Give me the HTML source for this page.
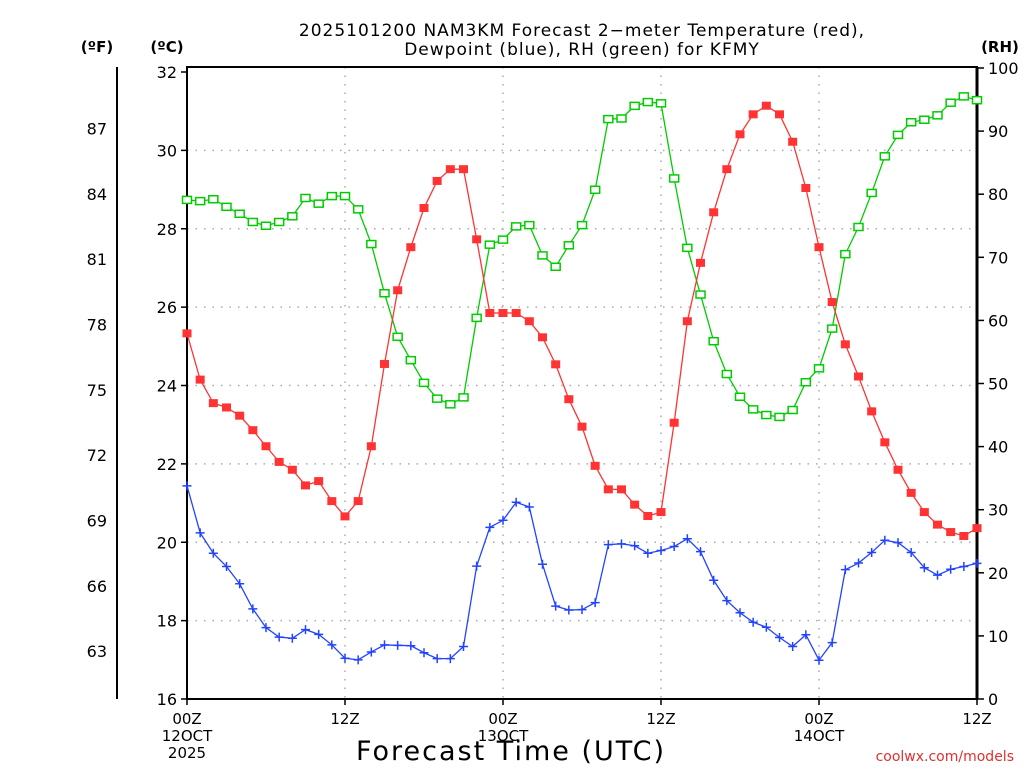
<!DOCTYPE html>
<html><head><meta charset="utf-8"><style>
body{margin:0;background:#fff;width:1024px;height:768px;overflow:hidden}
svg text{font-family:"DejaVu Sans","Liberation Sans",sans-serif;fill:#000}
</style></head><body>
<svg id="chart" width="1024" height="768" viewBox="0 0 1024 768" xmlns="http://www.w3.org/2000/svg">
<g id="grid"></g>
<g id="axes"></g>
<g id="series"></g>
<text x="582" y="36" font-size="17" letter-spacing="1" text-anchor="middle">2025101200 NAM3KM Forecast 2−meter Temperature (red),</text>
<text x="582" y="55" font-size="17" letter-spacing="1" text-anchor="middle">Dewpoint (blue), RH (green) for KFMY</text>
<text x="97" y="52" font-size="15" font-weight="bold" text-anchor="middle">(ºF)</text>
<text x="167" y="52" font-size="15" font-weight="bold" text-anchor="middle">(ºC)</text>
<text x="1000" y="52" font-size="15" font-weight="bold" text-anchor="middle">(RH)</text>
<text x="511" y="760" font-size="27" letter-spacing="2" text-anchor="middle">Forecast Time (UTC)</text>
<text x="1014" y="761" font-size="14" text-anchor="end" style="fill:#e03030">coolwx.com/models</text>
</svg>
<script>
const hours = Array.from({length:61},(_,i)=>i);
const tempC = [25.33,24.15,23.55,23.44,23.23,22.86,22.45,22.05,21.85,21.45,21.56,21.05,20.66,21.05,22.45,24.55,26.43,27.53,28.53,29.22,29.52,29.52,27.73,25.85,25.85,25.85,25.64,25.23,24.54,23.65,22.95,21.95,21.35,21.35,20.96,20.67,20.77,23.05,25.64,27.13,28.42,29.52,30.41,30.92,31.14,30.92,30.22,29.04,27.53,26.13,25.05,24.23,23.34,22.55,21.85,21.26,20.77,20.45,20.26,20.16,20.36];
const dewC = [21.44,20.24,19.72,19.38,18.94,18.30,17.82,17.58,17.55,17.77,17.65,17.38,17.04,17.00,17.20,17.38,17.37,17.36,17.18,17.03,17.03,17.34,19.39,20.38,20.56,21.02,20.90,19.44,18.37,18.27,18.28,18.46,19.94,19.96,19.91,19.72,19.79,19.89,20.09,19.76,19.03,18.51,18.20,17.96,17.83,17.57,17.34,17.64,16.99,17.44,19.30,19.47,19.74,20.05,19.99,19.74,19.35,19.16,19.31,19.38,19.46];
const rh = [79.1,78.9,79.2,78.0,76.9,75.6,75.0,75.6,76.5,79.4,78.5,79.7,79.7,77.6,72.1,64.3,57.4,53.7,50.1,47.6,46.7,47.8,60.4,72.0,72.8,74.9,75.1,70.3,68.5,71.9,75.1,80.7,91.9,92.0,94.0,94.6,94.4,82.5,71.5,64.1,56.7,51.5,47.9,45.9,45.0,44.7,45.8,50.2,52.4,58.7,70.5,74.8,80.2,86.0,89.4,91.4,91.8,92.5,94.5,95.5,94.9];
const cTicks = [16,18,20,22,24,26,28,30,32];
const fTicks = [63,66,69,72,75,78,81,84,87];
const rhTicks = [0,10,20,30,40,50,60,70,80,90,100];
const xTickHours = [0,12,24,36,48,60];
const xTickLabels = [["00Z","12OCT","2025"],["12Z"],["00Z","13OCT"],["12Z"],["00Z","14OCT"],["12Z"]];

const X0=187,X1=977,YB=699,YT=72,RHT=68;
const xs=h=>X0+(X1-X0)*h/60;
const yC=c=>YB-(YB-YT)*(c-16)/16;
const yF=f=>yC((f-32)/1.8);
const yR=r=>YB-(YB-RHT)*r/100;
const NS="http://www.w3.org/2000/svg";
function mk(tag,attrs,parent,text){const e=document.createElementNS(NS,tag);for(const k in attrs)e.setAttribute(k,attrs[k]);if(text!==undefined)e.textContent=text;parent.appendChild(e);return e;}
const grid=document.getElementById('grid'),axes=document.getElementById('axes'),series=document.getElementById('series');

cTicks.forEach(c=>{if(c>16&&c<32){const l=mk('line',{x1:X0,x2:X1,y1:yC(c),y2:yC(c),stroke:'#aaa','stroke-width':1.5,'stroke-dasharray':'1.5 7'},grid);

}});
[12,24,36,48].forEach(h=>{const l=mk('line',{x1:xs(h),x2:xs(h),y1:67,y2:YB,stroke:'#aaa','stroke-width':1.5,'stroke-dasharray':'1.5 7'},grid);

});

const fr=mk('rect',{x:X0,y:67,width:X1-X0,height:YB-67,fill:'none',stroke:'#000','stroke-width':2},axes);


const ra=mk('line',{x1:X1,x2:X1,y1:67,y2:YB,stroke:'#000','stroke-width':3},axes);


const fa=mk('line',{x1:117,x2:117,y1:67,y2:YB,stroke:'#000','stroke-width':2},axes);



cTicks.forEach(c=>{const t=mk('text',{x:177,y:yC(c)+6,'font-size':16,'text-anchor':'end'},axes,c);


mk('line',{x1:X0-6,x2:X0,y1:yC(c),y2:yC(c),stroke:'#000','stroke-width':1.5},axes);});
fTicks.forEach(f=>{const t=mk('text',{x:107,y:yF(f)+6,'font-size':16,'text-anchor':'end'},axes,f);

});
rhTicks.forEach(r=>{const t=mk('text',{x:988,y:yR(r)+6,'font-size':16},axes,r);


mk('line',{x1:X1,x2:X1+7,y1:yR(r),y2:yR(r),stroke:'#000','stroke-width':1.5},axes);});
xTickHours.forEach((h,i)=>{xTickLabels[i].forEach((s,j)=>{const t=mk('text',{x:xs(h),y:724+j*17,'font-size':15,'text-anchor':'middle'},axes,s);

});
mk('line',{x1:xs(h),x2:xs(h),y1:YB,y2:YB+6,stroke:'#000','stroke-width':1.5},axes);});

function line(vals,yf,color,name){const p=mk('polyline',{points:vals.map((v,i)=>xs(hours[i])+','+yf(v)).join(' '),fill:'none',stroke:color,'stroke-width':1.3},series);

}
line(rh,yR,'#00cc00','rh-line');
line(tempC,yC,'#ff3333','temperature-line');
line(dewC,yC,'#2244ff','dewpoint-line');
rh.forEach((v,i)=>{const m=mk('rect',{x:xs(hours[i])-4.5,y:yR(v)-3.5,width:9,height:7,fill:'#fff',stroke:'#00cc00','stroke-width':1.5},series);

});
tempC.forEach((v,i)=>{const m=mk('rect',{x:xs(hours[i])-4.5,y:yC(v)-4,width:9,height:8,fill:'#f33'},series);

});
dewC.forEach((v,i)=>{const x=xs(hours[i]),y=yC(v);const m=mk('path',{d:`M${x-4.5} ${y}H${x+4.5}M${x} ${y-4.5}V${y+4.5}`,stroke:'#2244ff','stroke-width':1.5},series);

});
</script>
</body></html>
